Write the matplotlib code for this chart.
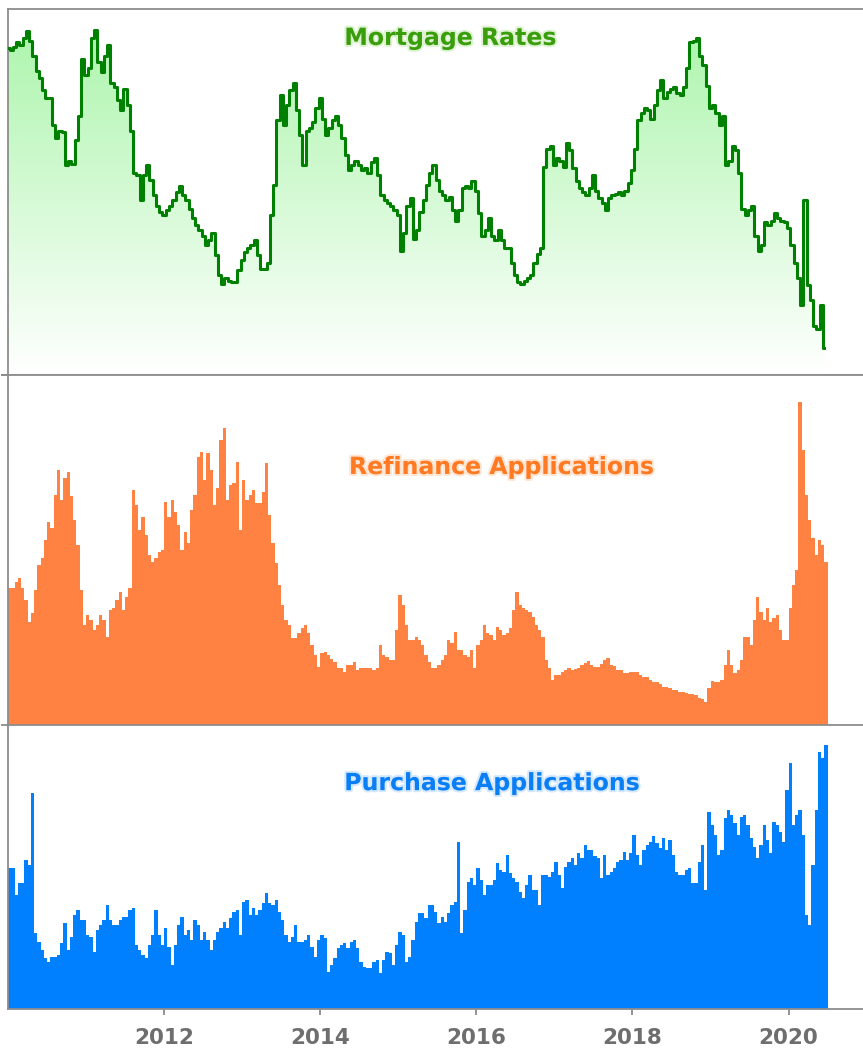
import numpy as np
import matplotlib
matplotlib.use("Agg")
import matplotlib.pyplot as plt
import matplotlib.patheffects as pe
from matplotlib.colors import LinearSegmentedColormap

# ── palette ───────────────────────────────────────────────────────────────────
GREEN      = "#008000"
GREEN_TXT  = "#3A9E0C"
ORANGE     = "#FF8242"
ORANGE_TXT = "#FF7A22"
BLUE       = "#0080FF"
BLUE_TXT   = "#0A7EF5"
AXIS       = "#8C8C8C"
TICK_TXT   = "#6E6E6E"

# ── data (semi-monthly samples, Jan 2010 .. Jun 2020) ─────────────────────────
START = 2010.0
STEP = 1 / 24
YEARS = [2012, 2014, 2016, 2018, 2020]

mortgage_rate = [
    5.08, 5.07, 5.09, 5.12, 5.10, 5.15, 5.19, 5.13, 5.03, 4.93, 4.88, 4.80,   # 2010
    4.75, 4.75, 4.57, 4.48, 4.53, 4.52, 4.30, 4.33, 4.31, 4.47, 4.63, 5.01,
    4.90, 4.95, 5.15, 5.20, 4.99, 4.92, 5.03, 5.10, 4.85, 4.82, 4.73, 4.67,   # 2011
    4.81, 4.70, 4.53, 4.25, 4.23, 4.07, 4.23, 4.30, 4.20, 4.10, 4.03, 3.99,
    3.97, 4.00, 4.03, 4.07, 4.12, 4.16, 4.10, 4.07, 4.01, 3.95, 3.90, 3.87,   # 2012
    3.83, 3.77, 3.80, 3.85, 3.70, 3.57, 3.51, 3.55, 3.53, 3.52, 3.52, 3.60,
    3.67, 3.72, 3.75, 3.77, 3.80, 3.70, 3.61, 3.61, 3.65, 3.97, 4.17, 4.60,   # 2013
    4.77, 4.57, 4.70, 4.80, 4.85, 4.67, 4.50, 4.30, 4.53, 4.55, 4.59, 4.68,
    4.75, 4.61, 4.50, 4.55, 4.60, 4.63, 4.57, 4.48, 4.37, 4.27, 4.30, 4.33,   # 2014
    4.30, 4.27, 4.28, 4.25, 4.32, 4.35, 4.23, 4.10, 4.07, 4.05, 4.03, 4.00,
    3.97, 3.73, 3.85, 4.03, 4.08, 3.81, 3.87, 3.99, 4.07, 4.17, 4.25, 4.30,   # 2015
    4.20, 4.13, 4.10, 4.07, 4.09, 4.00, 3.93, 4.00, 4.15, 4.16, 4.15, 4.19,
    4.13, 3.98, 3.83, 3.87, 3.95, 3.83, 3.80, 3.87, 3.80, 3.75, 3.75, 3.65,   # 2016
    3.57, 3.52, 3.51, 3.53, 3.55, 3.57, 3.65, 3.71, 3.75, 4.29, 4.41, 4.43,
    4.30, 4.35, 4.33, 4.29, 4.45, 4.40, 4.28, 4.19, 4.15, 4.12, 4.10, 4.15,   # 2017
    4.23, 4.13, 4.08, 4.05, 4.00, 4.08, 4.10, 4.11, 4.12, 4.10, 4.13, 4.18,
    4.27, 4.41, 4.60, 4.65, 4.68, 4.67, 4.61, 4.70, 4.80, 4.87, 4.75, 4.79,   # 2018
    4.81, 4.82, 4.78, 4.77, 4.82, 4.95, 5.12, 5.13, 5.15, 5.03, 4.97, 4.83,
    4.68, 4.70, 4.65, 4.57, 4.63, 4.30, 4.33, 4.43, 4.40, 4.25, 4.01, 3.97,   # 2019
    4.00, 4.03, 3.83, 3.73, 3.77, 3.92, 3.90, 3.93, 3.98, 3.95, 3.93, 3.92,
    3.88, 3.77, 3.65, 3.55, 3.37, 4.07, 3.50, 3.40, 3.23, 3.21, 3.37, 3.08,   # 2020
]

refi_index = [
    1880, 1880, 1940, 1980, 1880, 1760, 1540, 1630, 1860, 2110, 2180, 2360,   # 2010
    2540, 2480, 2810, 3060, 2760, 2980, 3040, 2800, 2560, 2310, 1860, 1510,
    1610, 1560, 1460, 1510, 1610, 1560, 1390, 1660, 1680, 1760, 1840, 1660,   # 2011
    1790, 1880, 2860, 2710, 2460, 2590, 2410, 2210, 2140, 2180, 2240, 2260,
    2740, 2590, 2760, 2640, 2510, 2260, 2440, 2330, 2660, 2810, 3190, 3240,   # 2012
    2960, 3230, 3060, 2710, 2880, 3360, 3480, 2760, 2910, 2930, 3140, 2460,
    2960, 2760, 2810, 2860, 2730, 2730, 2840, 3130, 2610, 2330, 2130, 1910,   # 2013
    1710, 1560, 1510, 1380, 1380, 1430, 1480, 1510, 1430, 1310, 1210, 1090,
    1230, 1240, 1210, 1170, 1140, 1080, 1080, 1040, 1110, 1110, 1140, 1060,   # 2014
    1080, 1080, 1080, 1080, 1060, 1080, 1310, 1210, 1190, 1160, 1160, 1460,
    1810, 1710, 1510, 1360, 1360, 1390, 1360, 1310, 1210, 1140, 1080, 1080,   # 2015
    1110, 1160, 1210, 1360, 1330, 1440, 1260, 1260, 1210, 1190, 1260, 1080,
    1310, 1360, 1510, 1430, 1410, 1360, 1490, 1460, 1410, 1430, 1480, 1660,   # 2016
    1840, 1710, 1680, 1660, 1640, 1590, 1510, 1460, 1390, 1160, 1080,  960,
    1010, 1010, 1040, 1060, 1080, 1060, 1070, 1080, 1110, 1130, 1150, 1110,   # 2017
    1090, 1090, 1120, 1160, 1180, 1110, 1100, 1060, 1060, 1030, 1030, 1040,
    1040, 1040, 1010,  990,  990,  960,  940,  940,  920,  890,  890,  880,   # 2018
     860,  860,  840,  840,  830,  820,  820,  810,  780,  770,  740,  880,
     950,  940,  940,  960, 1110, 1260, 1110, 1030, 1060, 1160, 1390, 1390,   # 2019
    1310, 1560, 1790, 1640, 1560, 1680, 1540, 1580, 1610, 1460, 1360, 1360,
    1680, 1910, 2060, 3740, 3260, 2810, 2560, 2380, 2210, 2360, 2310, 2140,   # 2020
]

purchase_index = [
    242, 242, 215, 227, 227, 250, 245, 317, 177, 168, 160, 152,   # 2010
    148, 153, 153, 155, 167, 187, 160, 173, 195, 200, 190, 190,
    175, 173, 158, 180, 185, 190, 205, 190, 185, 185, 190, 193,   # 2011
    193, 200, 202, 165, 160, 155, 152, 165, 175, 200, 175, 165,
    182, 163, 145, 165, 185, 193, 175, 180, 170, 190, 185, 170,   # 2012
    178, 170, 160, 170, 178, 182, 188, 182, 192, 198, 200, 175,
    208, 210, 195, 202, 195, 200, 207, 217, 207, 205, 210, 198,   # 2013
    190, 175, 168, 173, 185, 168, 168, 170, 175, 163, 153, 170,
    175, 172, 138, 145, 152, 162, 165, 167, 162, 168, 170, 162,   # 2014
    148, 143, 142, 142, 148, 150, 137, 150, 158, 157, 145, 165,
    178, 175, 148, 153, 170, 188, 197, 197, 192, 205, 205, 198,   # 2015
    187, 193, 188, 197, 205, 208, 268, 177, 200, 228, 232, 225,
    242, 230, 215, 225, 225, 230, 247, 240, 238, 255, 237, 232,   # 2016
    228, 218, 212, 225, 235, 220, 220, 205, 235, 235, 233, 238,
    248, 235, 222, 243, 248, 252, 245, 257, 252, 265, 260, 260,   # 2017
    254, 252, 232, 255, 235, 238, 242, 248, 250, 258, 250, 257,
    275, 255, 245, 260, 265, 268, 274, 267, 262, 272, 260, 270,   # 2018
    255, 238, 235, 235, 240, 242, 227, 227, 248, 265, 220, 298,
    285, 275, 255, 260, 292, 300, 295, 287, 275, 293, 295, 285,   # 2019
    272, 263, 252, 265, 285, 270, 257, 288, 285, 278, 268, 320,
    347, 285, 295, 300, 275, 195, 185, 245, 300, 358, 352, 365,   # 2020
]

dates = START + STEP * np.arange(len(mortgage_rate))
edges = START + STEP * np.arange(len(refi_index) + 1)

XLIM = (2010.0, 2021.0)
RATE_LIM = (2.90, 5.34)
REFI_LIM = (500, 4010)
PURCH_LIM = (101.5, 385)


def _style(ax, ylim, yticks):
    ax.set_xlim(*XLIM)
    ax.set_ylim(*ylim)
    ax.set_facecolor("white")
    ax.spines["right"].set_visible(False)
    for s in ("top", "left", "bottom"):
        ax.spines[s].set_color(AXIS)
        ax.spines[s].set_linewidth(1.3)
    ax.set_yticks(yticks)
    ax.tick_params(axis="y", length=5, width=1.3, color=AXIS, labelleft=False)
    ax.set_xticks([])


def _title(ax, x, y, text, color, glow):
    ax.text(x, y, text, transform=ax.transAxes, ha="center", va="center",
            fontsize=17, fontweight="bold", color=color, zorder=5,
            path_effects=[pe.withStroke(linewidth=3, foreground=glow, alpha=0.45)])


fig = plt.figure(figsize=(8.63, 10.53), dpi=100)
left, width = 8 / 863, 0.995
ax1 = fig.add_axes([left, 1 - 375 / 1053, width, 366 / 1053])
ax2 = fig.add_axes([left, 1 - 726 / 1053, width, 351 / 1053])
ax3 = fig.add_axes([left, 1 - 1008.5 / 1053, width, 283.5 / 1053])

# ── mortgage rates: jagged line over a fading green fill ──────────────────────
poly = ax1.fill_between(dates, mortgage_rate, RATE_LIM[0], step="mid",
                        facecolor="none", edgecolor="none")
grad = np.linspace(1, 0, 256).reshape(-1, 1)
cmap = LinearSegmentedColormap.from_list("fade", ["#ffffff", "#aef5ae"])
im = ax1.imshow(grad, cmap=cmap, aspect="auto", origin="upper",
                extent=[XLIM[0], XLIM[1], RATE_LIM[0], max(mortgage_rate)],
                zorder=1)
im.set_clip_path(poly.get_paths()[0], transform=ax1.transData)
ax1.plot(dates, mortgage_rate, color=GREEN, linewidth=2.2, zorder=3,
         drawstyle="steps-mid")
_style(ax1, RATE_LIM, [RATE_LIM[0]])
_title(ax1, 0.515, 0.921, "Mortgage Rates", GREEN_TXT, "#b8e6a0")

# ── refinance applications ────────────────────────────────────────────────────
ax2.stairs(refi_index, edges, fill=True, baseline=0, color=ORANGE, zorder=2)
_style(ax2, REFI_LIM, [REFI_LIM[1]])
_title(ax2, 0.575, 0.738, "Refinance Applications", ORANGE_TXT, "#ffc8a0")

# ── purchase applications ─────────────────────────────────────────────────────
ax3.stairs(purchase_index, edges, fill=True, baseline=0, color=BLUE, zorder=2)
_style(ax3, PURCH_LIM, [PURCH_LIM[1]])
_title(ax3, 0.564, 0.795, "Purchase Applications", BLUE_TXT, "#a0ccff")
ax3.set_xticks(YEARS)
ax3.set_xticklabels([str(y) for y in YEARS], fontsize=15.5, fontweight="bold",
                    color=TICK_TXT)
ax3.tick_params(axis="x", length=4, width=1.3, color=AXIS, pad=10)

fig.savefig("out.png", dpi=100, facecolor="white")
